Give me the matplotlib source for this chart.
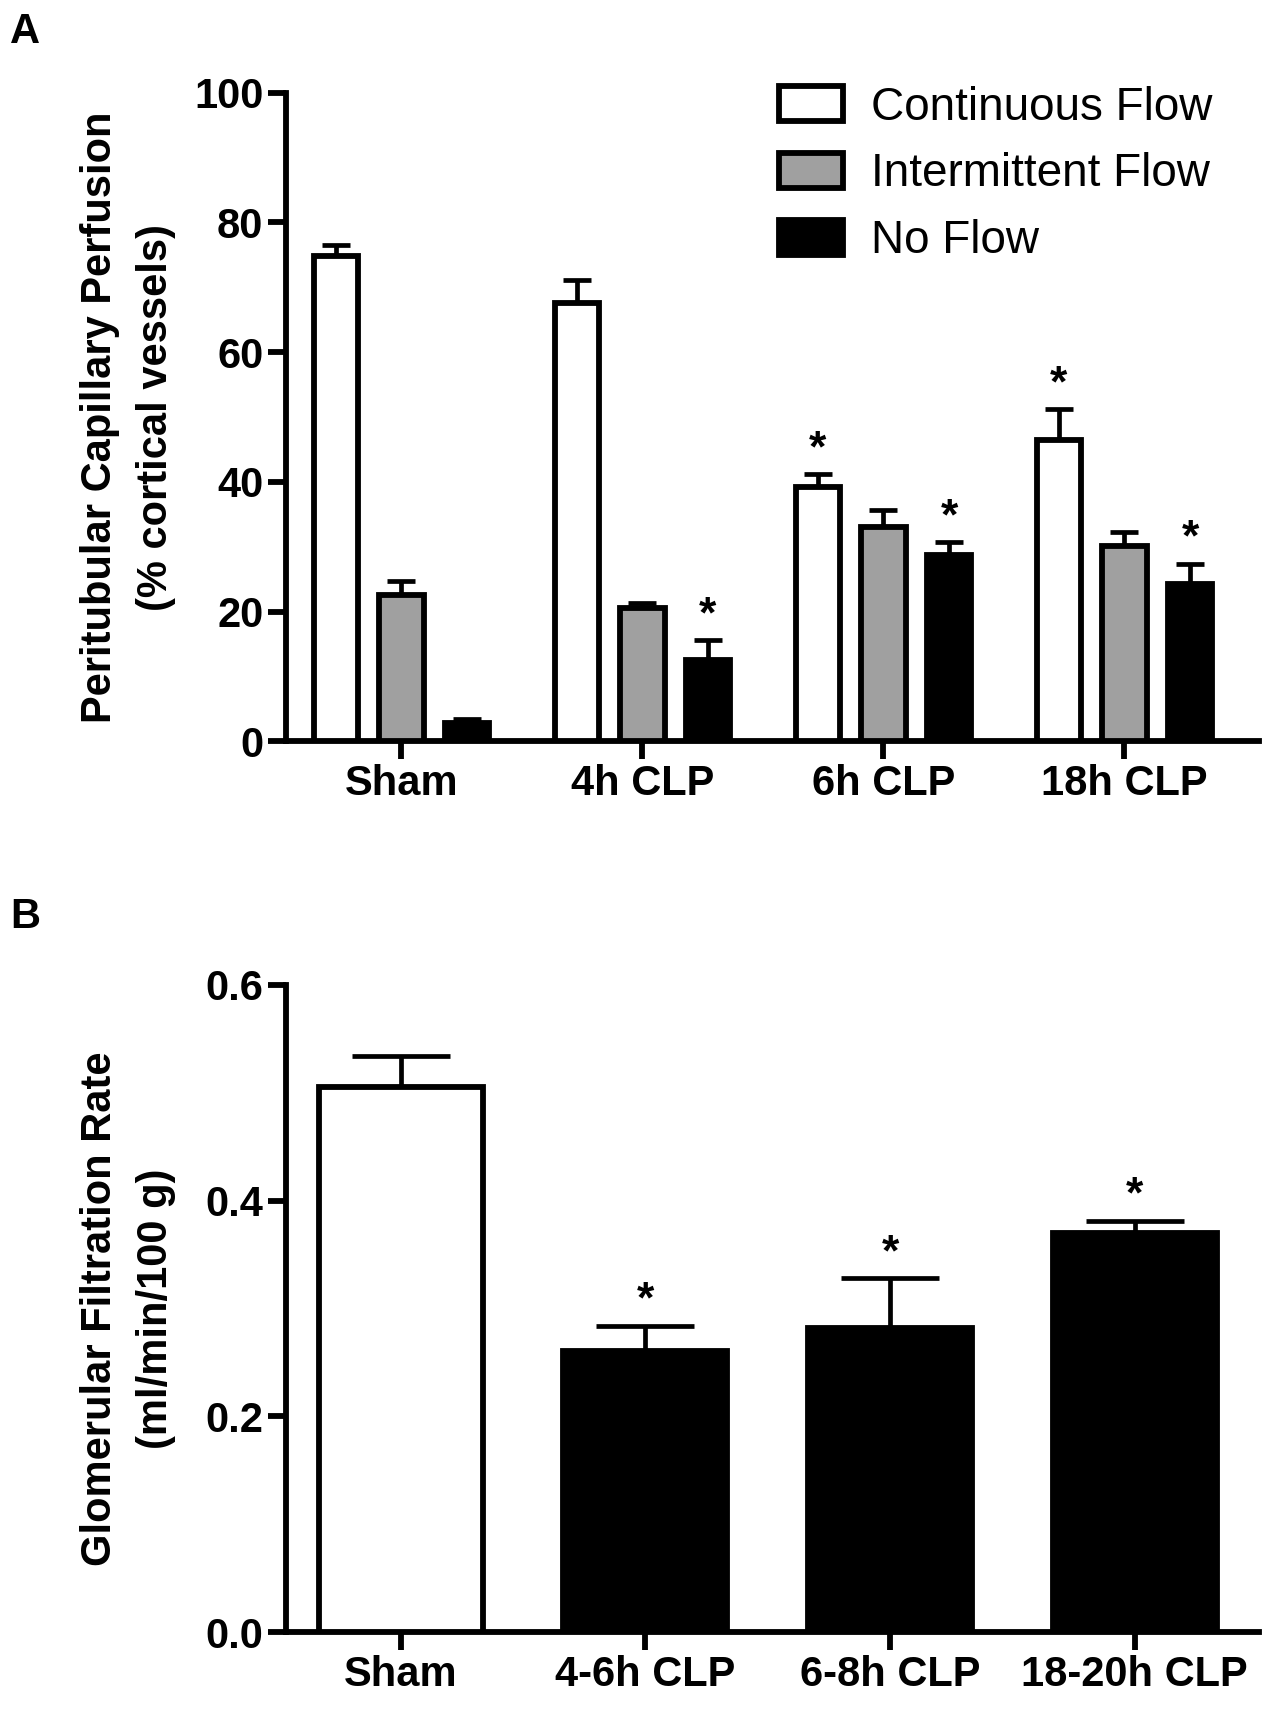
import matplotlib
matplotlib.use("Agg")
import matplotlib.pyplot as plt
import numpy as np
from matplotlib.patches import Patch

plt.rcParams['font.family'] = ['Liberation Sans', 'DejaVu Sans']

# ---- Panel A data ----
groups_a = ["Sham", "4h CLP", "6h CLP", "18h CLP"]
series_names = ["Continuous Flow", "Intermittent Flow", "No Flow"]
continuous = [74.9, 67.6, 39.2, 46.5]
continuous_err = [1.6, 3.6, 2.0, 4.7]
intermittent = [22.6, 20.5, 33.0, 30.2]
intermittent_err = [2.2, 0.9, 2.7, 2.1]
noflow = [2.9, 12.6, 28.7, 24.3]
noflow_err = [0.6, 3.0, 2.0, 3.1]
stars_a = [[False, False, True, True],   # continuous
           [False, False, False, False], # intermittent
           [False, True, True, True]]    # no flow
yticks_a = [0, 20, 40, 60, 80, 100]

# ---- Panel B data ----
groups_b = ["Sham", "4-6h CLP", "6-8h CLP", "18-20h CLP"]
gfr = [0.505, 0.261, 0.282, 0.370]
gfr_err = [0.029, 0.023, 0.046, 0.011]
stars_b = [False, True, True, True]
yticks_b = [0.0, 0.2, 0.4, 0.6]

W, H = 1267, 1710
fig = plt.figure(figsize=(W / 100, H / 100), dpi=100)

LW = 4.2
FS = 30

def style_axes(ax):
    for s in ['top', 'right']:
        ax.spines[s].set_visible(False)
    for s in ['left', 'bottom']:
        ax.spines[s].set_linewidth(LW)
    ax.tick_params(axis='both', width=LW, length=13, labelsize=FS, pad=3)
    for lab in ax.get_xticklabels() + ax.get_yticklabels():
        lab.set_fontweight('bold')

# Panel A
axA = fig.add_axes([0.2255, 0.5664, 0.994 - 0.2255, 0.9458 - 0.5664])
x = np.arange(len(groups_a))
off = 0.272
bw = 0.185
vals = [continuous, intermittent, noflow]
errs = [continuous_err, intermittent_err, noflow_err]
fills = ['white', '#a0a0a0', 'black']
for i in range(3):
    xs = x + (i - 1) * off
    axA.bar(xs, vals[i], width=bw, color=fills[i], edgecolor='black', linewidth=LW, zorder=3)
    axA.errorbar(xs, vals[i], yerr=[np.zeros(4), errs[i]], fmt='none', ecolor='black',
                 elinewidth=3.4, capsize=10, capthick=3.4, zorder=2)
    for j in range(4):
        if stars_a[i][j]:
            axA.annotate('*', (xs[j], vals[i][j] + errs[i][j]), xytext=(0, 3),
                         textcoords='offset points', ha='center', va='bottom',
                         fontsize=32, fontweight='bold')
axA.set_xlim(-0.48, 3.56)
axA.set_ylim(0, 100)
axA.set_yticks(yticks_a)
axA.set_xticks(x)
axA.set_xticklabels(groups_a)
axA.set_ylabel("Peritubular Capillary Perfusion\n(% cortical vessels)", fontsize=FS,
               fontweight='bold', linespacing=1.5)
axA.yaxis.set_label_coords(-0.113, 0.5)
style_axes(axA)

handles = [Patch(facecolor=f, edgecolor='black', linewidth=LW) for f in fills]
fig.legend(handles, series_names, loc='upper left', bbox_to_anchor=(0.615, 0.95),
           frameon=False, fontsize=33, handlelength=1.4, handleheight=0.8,
           labelspacing=0.5, handletextpad=0.6, borderpad=0, borderaxespad=0)

# Panel B
axB = fig.add_axes([0.2255, 0.0454, 0.994 - 0.2255, 0.4242 - 0.0454])
xb = np.arange(len(groups_b))
fills_b = ['white', 'black', 'black', 'black']
axB.bar(xb, gfr, width=0.67, color=fills_b, edgecolor='black', linewidth=LW, zorder=3)
axB.errorbar(xb, gfr, yerr=[np.zeros(4), gfr_err], fmt='none', ecolor='black',
             elinewidth=3.4, capsize=35, capthick=3.4, zorder=2)
for j in range(4):
    if stars_b[j]:
        axB.annotate('*', (xb[j], gfr[j] + gfr_err[j]), xytext=(0, 3),
                     textcoords='offset points', ha='center', va='bottom',
                     fontsize=32, fontweight='bold')
axB.set_xlim(-0.47, 3.51)
axB.set_ylim(0, 0.6)
axB.set_yticks(yticks_b)
axB.set_yticklabels([f"{v:.1f}" for v in yticks_b])
axB.set_xticks(xb)
axB.set_xticklabels(groups_b)
axB.set_ylabel("Glomerular Filtration Rate\n(ml/min/100 g)", fontsize=FS,
               fontweight='bold', linespacing=1.5)
axB.yaxis.set_label_coords(-0.113, 0.5)
style_axes(axB)

fig.text(0.008, 0.981, "A", fontsize=30, fontweight='bold', va='center', ha='left')
fig.text(0.008, 0.464, "B", fontsize=30, fontweight='bold', va='center', ha='left')

fig.savefig("out.png", dpi=100)
